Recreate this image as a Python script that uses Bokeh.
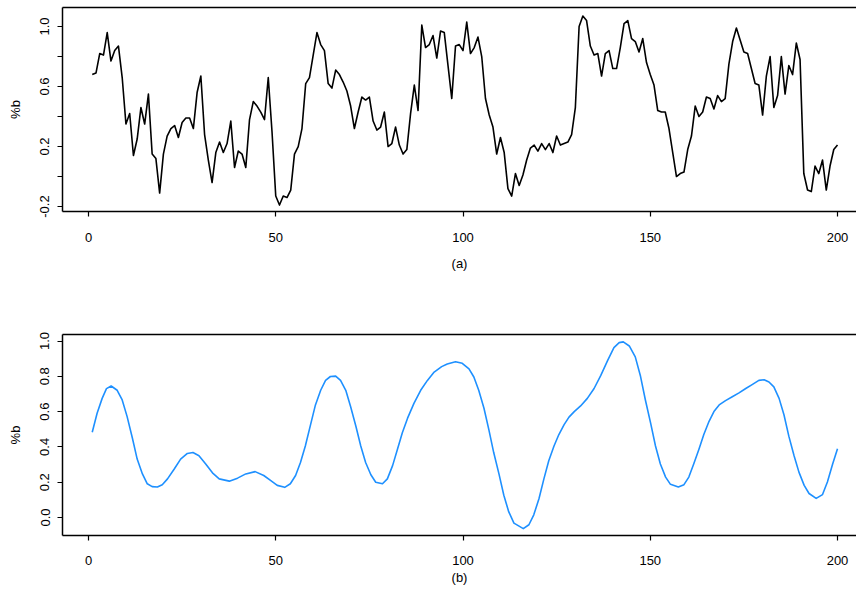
from bokeh.plotting import figure
from bokeh.models import LinearAxis, FixedTicker, PrintfTickFormatter, Range1d, ColumnDataSource
from bokeh.layouts import column
from bokeh.embed import file_html
from bokeh.resources import INLINE

# ---------------- data ----------------
pct_b = [0.68, 0.69, 0.82, 0.81, 0.96, 0.77, 0.84, 0.87, 0.66, 0.35,
         0.42, 0.14, 0.25, 0.46, 0.35, 0.55, 0.15, 0.12, -0.11, 0.15,
         0.27, 0.32, 0.34, 0.26, 0.36, 0.39, 0.39, 0.32, 0.56, 0.67,
         0.28, 0.11, -0.04, 0.16, 0.23, 0.16, 0.22, 0.37, 0.06, 0.17,
         0.15, 0.06, 0.38, 0.50, 0.47, 0.43, 0.38, 0.66, 0.30, -0.13,
         -0.19, -0.13, -0.14, -0.09, 0.15, 0.20, 0.32, 0.62, 0.66, 0.81,
         0.96, 0.88, 0.84, 0.62, 0.59, 0.71, 0.68, 0.63, 0.57, 0.47,
         0.32, 0.43, 0.53, 0.51, 0.53, 0.37, 0.31, 0.33, 0.43, 0.20,
         0.22, 0.33, 0.21, 0.15, 0.18, 0.42, 0.61, 0.44, 1.01, 0.86,
         0.88, 0.94, 0.79, 0.97, 0.96, 0.74, 0.52, 0.87, 0.88, 0.84,
         1.03, 0.82, 0.86, 0.93, 0.80, 0.52, 0.41, 0.33, 0.15, 0.26,
         0.16, -0.08, -0.13, 0.02, -0.06, 0.01, 0.11, 0.19, 0.21, 0.17,
         0.22, 0.18, 0.22, 0.16, 0.27, 0.21, 0.22, 0.23, 0.28, 0.46,
         1.00, 1.07, 1.04, 0.87, 0.81, 0.82, 0.67, 0.82, 0.84, 0.72,
         0.72, 0.86, 1.02, 1.04, 0.92, 0.90, 0.83, 0.92, 0.76, 0.68,
         0.61, 0.44, 0.43, 0.43, 0.32, 0.16, 0.00, 0.02, 0.03, 0.18,
         0.27, 0.47, 0.40, 0.43, 0.53, 0.52, 0.45, 0.54, 0.50, 0.52,
         0.75, 0.90, 0.99, 0.91, 0.83, 0.82, 0.72, 0.62, 0.61, 0.41,
         0.67, 0.80, 0.46, 0.54, 0.80, 0.55, 0.74, 0.68, 0.89, 0.78,
         0.02, -0.09, -0.10, 0.07, 0.02, 0.11, -0.09, 0.07, 0.18, 0.21]
idx = list(range(1, len(pct_b) + 1))

smooth_x = [1, 2.3, 3.65, 4.8, 6.05, 7.66, 9, 10.3, 11.7, 13,
            14.4, 15.7, 17, 18.4, 19.7, 21.1, 22.9, 24.6, 26.4, 27.9,
            29.5, 31.3, 33.1, 34.9, 37.6, 39.8, 42, 44.5, 46.8, 48.6,
            50.4, 52.4, 53.9, 55.3, 56.6, 57.9, 59.3, 60.6, 62, 63.3,
            64.6, 66, 67.3, 68.7, 70, 71.4, 72.7, 74, 75.4, 76.7,
            78.5, 79.8, 81.2, 82.5, 83.8, 85.2, 86.9, 88.7, 90.5, 92.3,
            94.3, 95.8, 98, 99.8, 101.6, 102.9, 104.2, 105.6, 106.9, 108.2,
            109.6, 110.9, 112.2, 113.6, 116.1, 117.6, 118.9, 120.3, 121.6, 122.9,
            124.3, 125.6, 127, 128.3, 129.7, 131.4, 133.2, 135, 136.8, 138.6,
            140.3, 141.7, 142.8, 144.4, 146, 147.4, 148.7, 150.1, 151.4, 152.7,
            154.1, 155.4, 157.5, 159, 160.3, 161.6, 163, 164.3, 165.7, 167,
            168.4, 170.1, 171.9, 173.7, 175.5, 177.2, 179, 180.4, 181.7, 183,
            184.4, 185.7, 187, 188.4, 189.7, 191.1, 192.4, 194.3, 196, 197.3,
            198.7, 200]
smooth_y = [0.483, 0.591, 0.675, 0.73, 0.745, 0.721, 0.666, 0.573, 0.452, 0.331,
            0.247, 0.191, 0.175, 0.173, 0.186, 0.219, 0.275, 0.331, 0.363, 0.368,
            0.35, 0.303, 0.253, 0.219, 0.206, 0.223, 0.247, 0.26, 0.238, 0.21,
            0.182, 0.171, 0.191, 0.238, 0.312, 0.405, 0.526, 0.638, 0.721, 0.777,
            0.799, 0.801, 0.777, 0.721, 0.628, 0.517, 0.405, 0.312, 0.242, 0.2,
            0.191, 0.219, 0.294, 0.387, 0.48, 0.563, 0.647, 0.721, 0.777, 0.824,
            0.855, 0.87, 0.883, 0.874, 0.842, 0.796, 0.721, 0.619, 0.498, 0.368,
            0.247, 0.126, 0.033, -0.032, -0.063, -0.041, 0.015, 0.108, 0.219, 0.322,
            0.405, 0.47, 0.526, 0.569, 0.6, 0.632, 0.675, 0.731, 0.805, 0.889,
            0.963, 0.991, 0.995, 0.972, 0.91, 0.80, 0.666, 0.535, 0.405, 0.303,
            0.229, 0.188, 0.173, 0.186, 0.229, 0.303, 0.387, 0.47, 0.545, 0.6,
            0.638, 0.662, 0.684, 0.706, 0.731, 0.753, 0.777, 0.781, 0.768, 0.74,
            0.675, 0.582, 0.461, 0.35, 0.257, 0.182, 0.136, 0.108, 0.13, 0.201,
            0.303, 0.39]

x_ticks = [0, 50, 100, 150, 200]
top_y_labeled = [-0.2, 0.2, 0.6, 1.0]
top_y_unlabeled = [0.0, 0.4, 0.8]
bot_y_ticks = [0.0, 0.2, 0.4, 0.6, 0.8, 1.0]
y_title = "%b"
panel_a = "(a)"
panel_b = "(b)"

FONT = "Liberation Sans"
FS = "13px"


def style(ax):
    ax.axis_line_color = "black"
    ax.axis_line_width = 1.5
    ax.major_tick_line_color = "black"
    ax.major_tick_line_width = 1.2
    ax.major_tick_in = 0
    ax.major_tick_out = 5
    ax.minor_tick_line_color = "black"
    ax.minor_tick_line_width = 1.2
    ax.minor_tick_in = 0
    ax.minor_tick_out = 5
    ax.major_label_text_font = FONT
    ax.major_label_text_font_size = FS
    ax.major_label_text_color = "black"
    ax.axis_label_text_font = FONT
    ax.axis_label_text_font_size = FS
    ax.axis_label_text_font_style = "normal"
    ax.axis_label_text_color = "black"


def make_fig(height, ylo, yhi, border_top, border_bottom):
    p = figure(width=856, height=height,
               x_range=Range1d(-6.94, 205.07), y_range=Range1d(ylo, yhi),
               x_axis_type=None, y_axis_type=None,
               output_backend="svg", toolbar_location=None,
               min_border_left=62, min_border_right=0,
               min_border_top=border_top, min_border_bottom=border_bottom)
    p.outline_line_color = None
    p.background_fill_color = "white"
    p.border_fill_color = "white"
    top = LinearAxis(ticker=FixedTicker(ticks=[], minor_ticks=[]))
    style(top)
    top.major_tick_out = 0
    top.minor_tick_out = 0
    top.major_label_text_font_size = "0px"
    top.major_label_standoff = 0
    p.add_layout(top, "above")
    return p


def left_axis(ticks, minor):
    ax = LinearAxis(ticker=FixedTicker(ticks=ticks, minor_ticks=minor),
                    formatter=PrintfTickFormatter(format="%.1f"), axis_label=y_title)
    style(ax)
    ax.major_label_orientation = "vertical"
    ax.major_label_standoff = 8
    ax.axis_label_standoff = 15
    return ax


# ---------------- panel (a) ----------------
p1 = make_fig(290, -0.233, 1.127, 7, 79)
xa = LinearAxis(ticker=FixedTicker(ticks=x_ticks, minor_ticks=[]), axis_label=panel_a)
style(xa)
xa.major_label_standoff = 16
xa.axis_label_standoff = 11
p1.add_layout(xa, "below")
p1.add_layout(left_axis(top_y_labeled, top_y_unlabeled), "left")
src1 = ColumnDataSource(dict(x=idx, y=pct_b))
p1.line("x", "y", source=src1, line_color="black", line_width=1.6, line_join="round")

# ---------------- panel (b) ----------------
p2 = make_fig(297, -0.102, 1.037, 44, 49)
xb = LinearAxis(ticker=FixedTicker(ticks=x_ticks, minor_ticks=[]), axis_label=panel_b)
style(xb)
xb.major_label_standoff = 15
xb.axis_label_standoff = 2
p2.add_layout(xb, "below")
p2.add_layout(left_axis(bot_y_ticks, []), "left")
src2 = ColumnDataSource(dict(x=smooth_x, y=smooth_y))
p2.line("x", "y", source=src2, line_color="#1E90FF", line_width=1.6, line_join="round")

layout = column(p1, p2, spacing=0)
open("out.html", "w").write(file_html(layout, INLINE))
